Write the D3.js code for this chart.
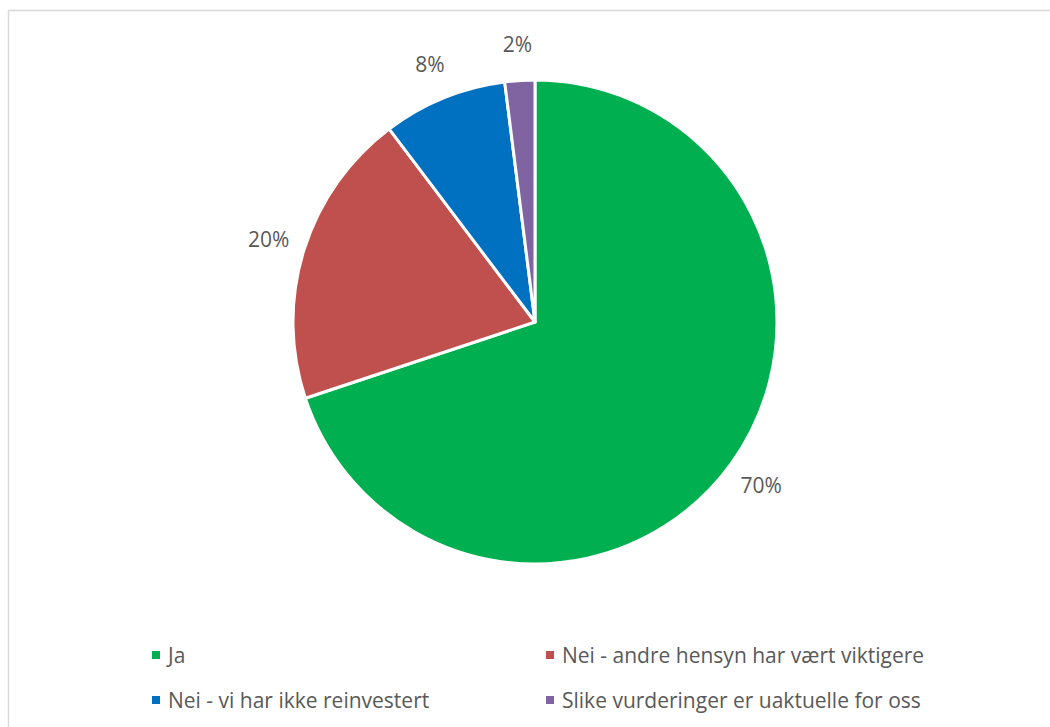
<!DOCTYPE html>
<html><head><meta charset="utf-8">
<script src="https://cdn.jsdelivr.net/npm/d3@7"></script>
<style>
body{margin:0;background:#fff;}
text{font-family:"Open Sans","Noto Sans",sans-serif;fill:#595959;}
</style></head>
<body><svg id="c" width="1050" height="727"></svg>
<script>
const categories = ["Ja","Nei - andre hensyn har vært viktigere","Nei - vi har ikke reinvestert","Slike vurderinger er uaktuelle for oss"];
const values = [69.9, 19.8, 8.3, 2.0];
const labels = ["70%","20%","8%","2%"];
const colors = ["#00B050","#C0504D","#0070C0","#8064A2"];

const svg = d3.select("#c");
svg.append("rect").attr("x",8.5).attr("y",10.5).attr("width",1060).attr("height",740)
  .attr("fill","#fff").attr("stroke","#d9d9d9").attr("stroke-width",1.5);

const cx=535, cy=322, r=242;
const data = categories.map((c,i)=>({c,v:values[i],l:labels[i],col:colors[i]}));
const pie = d3.pie().value(d=>d.v).sort(null);
const arcs = pie(data);
const arc = d3.arc().innerRadius(0).outerRadius(r);
const labelArc = d3.arc().innerRadius(r+37).outerRadius(r+37);
const g = svg.append("g").attr("transform",`translate(${cx},${cy})`);
g.selectAll("path").data(arcs).join("path").attr("d",arc)
  .attr("fill",d=>d.data.col).attr("stroke","#fff").attr("stroke-width",3).attr("stroke-linejoin","round");
g.selectAll("text").data(arcs).join("text")
  .attr("transform",d=>`translate(${labelArc.centroid(d)})`)
  .attr("text-anchor","middle").attr("dominant-baseline","central")
  .style("font-size","21px").text(d=>d.data.l);

const legX=[152,546], legY=[655,700];
const lg = svg.selectAll("g.leg").data(data).join("g").attr("class","leg")
  .attr("transform",(d,i)=>`translate(${legX[i%2]},${legY[Math.floor(i/2)]})`);
lg.append("rect").attr("x",0).attr("y",-4).attr("width",8).attr("height",8).attr("fill",d=>d.col);
lg.append("text").attr("x",16).attr("y",0).attr("dominant-baseline","central")
  .style("font-size","21px").text(d=>d.c);
</script></body></html>
